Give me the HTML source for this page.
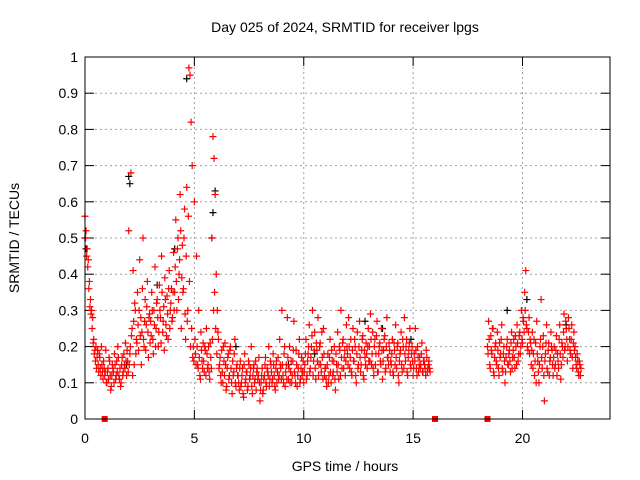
<!DOCTYPE html>
<html><head><meta charset="utf-8"><style>
html,body{margin:0;padding:0;background:#fff}
svg{display:block;font-family:"Liberation Sans",sans-serif}
</style></head><body>
<svg id="c" width="640" height="480" xmlns="http://www.w3.org/2000/svg">
<text x="345" y="32" font-size="14" text-anchor="middle">Day 025 of 2024, SRMTID for receiver lpgs</text>
<text x="345" y="471" font-size="14" text-anchor="middle">GPS time / hours</text>
<text transform="translate(19,238) rotate(-90)" font-size="14" text-anchor="middle">SRMTID / TECUs</text>
<g id="grid"></g>
<g id="ticks"></g>
<g id="marks"></g>
<rect x="85" y="57" width="525" height="362" fill="none" stroke="#000" stroke-width="1"/>
</svg>
<script>
const xTicks=[0,5,10,15,20];
const yTicks=[0,0.1,0.2,0.3,0.4,0.5,0.6,0.7,0.8,0.9,1];
const yTickLabels=["0","0.1","0.2","0.3","0.4","0.5","0.6","0.7","0.8","0.9","1"];
const seg1Start=0, seg1Step=0.05;
const seg1Values=[
.56,.52,.47,.44,.38,.33,.3,.28,.22,.19,.2,.17,.15,.18,.14,.2,.13,.16,.12,.19,
.1,.14,.17,.12,.09,.15,.13,.18,.11,.16,.2,.12,.14,.1,.17,.13,.15,.21,.12,.16,
.52,.18,.68,.25,.41,.15,.3,.22,.35,.19,.44,.28,.24,.5,.2,.33,.26,.38,.17,.29,
.27,.35,.22,.3,.42,.25,.33,.2,.37,.28,.45,.24,.31,.39,.26,.34,.22,.41,.3,.36,
.28,.46,.35,.55,.3,.5,.4,.62,.25,.48,.36,.58,.22,.64,.3,.97,.95,.82,.7,.2,
.6,.18,.45,.15,.3,.12,.24,.16,.21,.13,.19,.25,.14,.2,.11,.17,.5,.78,.72,.62,
.4,.3,.22,.15,.12,.19,.1,.16,.21,.08,.14,.18,.12,.2,.1,.16,.13,.22,.09,.15,
.12,.08,.16,.1,.14,.06,.18,.11,.13,.09,.15,.12,.2,.07,.14,.1,.16,.13,.11,.17,
.05,.1,.14,.08,.12,.17,.09,.13,.2,.11,.15,.1,.18,.12,.08,.16,.13,.11,.22,.14,
.3,.12,.18,.09,.15,.28,.11,.2,.13,.1,.16,.27,.12,.19,.09,.14,.22,.11,.17,.13,
.1,.15,.22,.12,.18,.26,.14,.2,.3,.16,.24,.11,.19,.28,.15,.21,.13,.17,.25,.12,
.14,.09,.18,.12,.22,.1,.16,.13,.2,.08,.15,.24,.11,.19,.3,.14,.22,.17,.12,.26,
.18,.28,.14,.22,.12,.25,.16,.2,.1,.24,.15,.27,.13,.19,.23,.11,.17,.21,.14,.25,
.2,.29,.15,.24,.12,.22,.18,.27,.13,.2,.16,.25,.11,.19,.23,.14,.28,.17,.21,.13,
.15,.22,.12,.19,.26,.14,.21,.1,.18,.24,.13,.2,.28,.16,.22,.12,.19,.25,.14,.2,
.12,.18,.25,.14,.2,.13,.17,.15,.21,.13,.16,.14,.19,.13,.15,.14];
const seg1bStart=0.025, seg1bStep=0.05;
const seg1bValues=[
.5,.45,.42,.36,.31,.29,.25,.21,.18,.16,.14,.19,.13,.17,.12,.15,.11,.14,.13,.1,
.13,.11,.16,.08,.12,.14,.1,.15,.12,.13,.17,.11,.09,.15,.12,.18,.14,.16,.19,.13,
.15,.2,.23,.12,.27,.32,.18,.21,.26,.3,.23,.15,.36,.22,.27,.19,.31,.24,.28,.21,
.23,.3,.18,.26,.2,.32,.28,.24,.3,.21,.35,.27,.19,.33,.23,.29,.36,.25,.32,.27,
.35,.3,.42,.38,.47,.33,.44,.52,.39,.35,.5,.29,.45,.27,.56,.38,.2,.25,.17,.16,
.22,.15,.2,.14,.17,.11,.19,.14,.16,.2,.12,.18,.15,.13,.21,.14,.22,.3,.35,.25,
.18,.24,.14,.17,.1,.13,.2,.12,.15,.09,.17,.11,.19,.14,.07,.12,.18,.1,.14,.12,
.1,.14,.09,.12,.07,.15,.1,.13,.08,.16,.11,.14,.09,.12,.15,.11,.08,.14,.12,.1,
.08,.12,.07,.11,.15,.1,.14,.12,.09,.16,.13,.11,.15,.09,.14,.1,.17,.12,.15,.11,
.15,.1,.2,.13,.11,.17,.14,.1,.16,.12,.19,.13,.1,.15,.12,.18,.1,.14,.12,.16,
.13,.18,.11,.16,.2,.13,.17,.23,.12,.19,.14,.21,.16,.12,.2,.15,.24,.11,.18,.14,
.11,.15,.1,.17,.13,.19,.12,.16,.11,.18,.13,.15,.2,.12,.17,.21,.14,.19,.16,.2,
.15,.2,.17,.13,.19,.16,.22,.12,.18,.14,.2,.17,.15,.22,.12,.19,.15,.18,.2,.16,
.16,.22,.18,.14,.2,.15,.23,.13,.18,.21,.15,.19,.16,.22,.13,.2,.17,.15,.19,.16,
.18,.13,.21,.15,.17,.2,.12,.16,.19,.15,.22,.14,.18,.2,.13,.17,.21,.15,.18,.16,
.14,.16,.19,.12,.17,.15,.14,.18,.13,.16,.15,.12,.17,.14,.16,.13];
const seg2Start=18.4, seg2Step=0.05;
const seg2Values=[
.2,.27,.15,.23,.18,.25,.12,.2,.16,.24,.14,.21,.18,.26,.13,.2,.1,.17,.22,.15,
.19,.13,.24,.17,.22,.14,.2,.26,.16,.23,.18,.3,.21,.27,.35,.41,.25,.19,.28,.22,
.15,.24,.18,.12,.21,.27,.16,.1,.2,.33,.14,.23,.05,.18,.26,.13,.21,.16,.24,.19,
.12,.2,.15,.23,.18,.14,.26,.11,.21,.17,.29,.2,.25,.16,.28,.22,.18,.26,.14,.24,
.2,.15,.18,.13,.16,.12];
const seg2bStart=18.425, seg2bStep=0.05;
const seg2bValues=[
.18,.22,.14,.19,.25,.13,.17,.21,.15,.19,.12,.17,.22,.14,.18,.16,.13,.2,.15,.18,
.16,.21,.14,.19,.17,.23,.15,.21,.18,.24,.2,.22,.28,.24,.3,.26,.2,.24,.18,.21,
.19,.14,.22,.16,.1,.18,.13,.15,.22,.17,.2,.12,.16,.21,.14,.19,.12,.17,.2,.15,
.17,.14,.19,.12,.16,.22,.18,.15,.2,.24,.19,.27,.22,.2,.25,.19,.22,.17,.21,.19,
.17,.14,.16,.12,.15,.14];
const blackTimes=[0,0.05,2,2.05,4.65,5.8,5.85,5.95,3.3,4.1,6.9,9.3,12.8,13.6,19.3,20.2,22,1.9,10.5,14.9];
const blackValues=[.5,.47,.67,.65,.94,.5,.57,.63,.37,.47,.2,.15,.27,.25,.3,.33,.26,.15,.18,.22];
const gapTimes=[0.9,16,18.4];

const X=t=>85+t*(525/24), Y=v=>419-v*362;
const NS="http://www.w3.org/2000/svg";
function mk(tag,attrs,parent){const e=document.createElementNS(NS,tag);for(const k in attrs)e.setAttribute(k,attrs[k]);parent.appendChild(e);return e;}
const grid=document.getElementById('grid'),ticks=document.getElementById('ticks'),marks=document.getElementById('marks');
yTicks.forEach((v,i)=>{const y=Y(v);
 if(i>0&&i<yTicks.length-1){const g=mk('line',{x1:85,x2:610,y1:y,y2:y,stroke:'#a0a0a0','stroke-dasharray':'2,3'},grid);
 
 }
 mk('line',{x1:85,x2:94,y1:y,y2:y,stroke:'#000'},ticks);mk('line',{x1:601,x2:610,y1:y,y2:y,stroke:'#000'},ticks);
 const t=mk('text',{x:78,y:y+5,'font-size':14,'text-anchor':'end'},ticks);t.textContent=yTickLabels[i];
 
 
});
xTicks.forEach(v=>{const x=X(v);
 if(v>0){const g=mk('line',{x1:x,x2:x,y1:57,y2:419,stroke:'#a0a0a0','stroke-dasharray':'2,3'},grid);
 
 }
 mk('line',{x1:x,x2:x,y1:410,y2:419,stroke:'#000'},ticks);mk('line',{x1:x,x2:x,y1:57,y2:66,stroke:'#000'},ticks);
 const t=mk('text',{x:x,y:443,'font-size':14,'text-anchor':'middle'},ticks);t.textContent=String(v);
 
 
});
function plus(t,v,color,name){const x=X(t),y=Y(v);
 const p=mk('path',{d:`M${x-3.5} ${y}h7M${x} ${y-3.5}v7`,stroke:color,'stroke-width':1.2,fill:'none'},marks);
 
 }
blackTimes.forEach((t,i)=>plus(t,blackValues[i],'#000','black-point'));
seg1Values.forEach((v,i)=>plus(seg1Start+i*seg1Step,v,'#f00','red-point'));
seg1bValues.forEach((v,i)=>plus(seg1bStart+i*seg1bStep,v,'#f00','red-point'));
seg2Values.forEach((v,i)=>plus(seg2Start+i*seg2Step,v,'#f00','red-point'));
seg2bValues.forEach((v,i)=>plus(seg2bStart+i*seg2bStep,v,'#f00','red-point'));
gapTimes.forEach(t=>{const r=mk('rect',{x:X(t)-3,y:416,width:6,height:6,fill:'#f00'},marks);
 
 });
</script>
</body></html>
